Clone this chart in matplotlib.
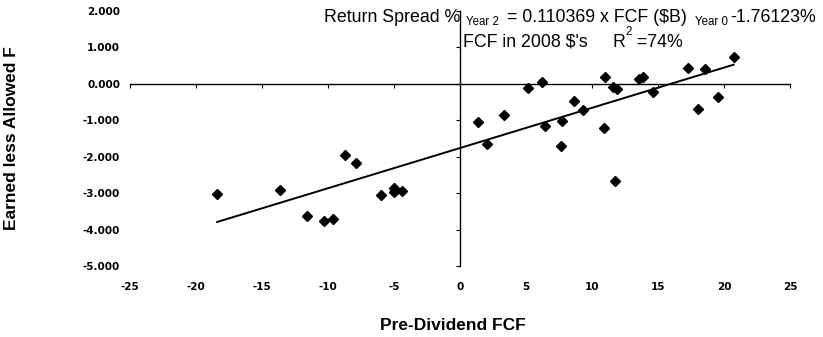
import matplotlib
matplotlib.use("Agg")
import matplotlib.pyplot as plt
import numpy as np

plt.rcParams['font.family'] = ['Liberation Sans', 'DejaVu Sans']

# Pre-dividend free cash flow ($B, 2008 dollars) and return spread two years later (%)
fcf = [-18.4, -13.6, -11.6, -10.3, -9.65, -8.7, -7.9, -6.0, -4.97, -4.97, -4.37,
       1.34, 2.02, 3.31, 5.15, 6.21, 6.47, 7.63, 7.75, 8.64, 9.32,
       10.93, 10.96, 11.57, 11.92, 11.72, 13.58, 13.84, 14.65,
       17.30, 18.0, 18.56, 19.57, 20.73]
spread = [-3.02, -2.91, -3.63, -3.77, -3.70, -1.95, -2.17, -3.06, -2.85, -2.97, -2.93,
          -1.05, -1.66, -0.85, -0.11, 0.05, -1.15, -1.70, -1.01, -0.47, -0.73,
          -1.21, 0.19, -0.09, -0.14, -2.66, 0.14, 0.19, -0.21,
          0.43, -0.69, 0.40, -0.37, 0.73]

# Fitted relationship stated in the annotation
slope = 0.110369
intercept = -1.76123
r_squared = 74

x_ticks = [-25, -20, -15, -10, -5, 0, 5, 10, 15, 20, 25]
y_ticks = [2.0, 1.0, 0.0, -1.0, -2.0, -3.0, -4.0, -5.0]

W, H = 823, 337
fig = plt.figure(figsize=(W / 100, H / 100), dpi=100)
pos = [130 / W, 1 - 266 / H, 660 / W, 255 / H]


def px(x, y):
    """Pixel position (from top-left) to figure fraction."""
    return x / W, 1 - y / H


# Axes carrying the crossing axis lines through the origin
ax = fig.add_axes(pos)
ax.set_xlim(-25, 25)
ax.set_ylim(-5, 2)
ax.spines['top'].set_visible(False)
ax.spines['right'].set_visible(False)
ax.spines['left'].set_position(('data', 0))
ax.spines['bottom'].set_position(('data', 0))
for s in ('left', 'bottom'):
    ax.spines[s].set_linewidth(1.0)
    ax.spines[s].set_color('black')
ax.set_xticks(x_ticks)
ax.set_yticks(y_ticks)
ax.tick_params(axis='x', direction='out', length=3, width=0.8, labelbottom=False)
ax.tick_params(axis='y', direction='out', length=3, width=0.8, labelleft=False)

# Overlay axes holding tick labels at the low edge of the plot area
lab = fig.add_axes(pos, sharex=ax, sharey=ax)
lab.patch.set_visible(False)
for s in lab.spines.values():
    s.set_visible(False)
lab.tick_params(axis='x', length=0, pad=11.5, labelsize=7.5)
lab.tick_params(axis='y', length=0, pad=7.2, labelsize=7.5)
lab.set_xticks(x_ticks)
lab.set_xticklabels([str(v) for v in x_ticks], fontweight='bold', family='DejaVu Sans')
lab.set_yticks(y_ticks)
lab.set_yticklabels([f"{v:.3f}" for v in y_ticks], fontweight='bold', family='DejaVu Sans')

# Data points and fitted line
ax.plot(fcf, spread, linestyle='none', marker='D', markersize=5,
        color='black', zorder=3)
xf = np.array([min(fcf), max(fcf)])
ax.plot(xf, slope * xf + intercept, color='black', linewidth=1.4, zorder=2)

# Axis titles
fig.text(*px(453, 325), 'Pre-Dividend FCF', ha='center', va='center',
         fontsize=12.5, fontweight='bold')
fig.text(*px(12, 138), 'Earned less Allowed F', ha='center', va='center',
         rotation=90, fontsize=12.5, fontweight='bold')

# Regression annotation, built from main-size and small subscript pieces
big, small = 12.8, 8.3
line1 = [
    (324, 22.5, 'Return Spread %', big),
    (466, 25.0, 'Year 2', small),
    (507, 22.5, f'= {slope:.6f} x FCF ($B)', big),
    (695, 25.0, 'Year 0', small),
    (730, 22.5, f'{intercept:.5f}%', big),
]
for x, y, s, fs in line1:
    fig.text(*px(x, y), s, ha='left', va='baseline', fontsize=fs)

fig.text(*px(463, 47), "FCF in 2008 $'s", ha='left', va='baseline', fontsize=big)
fig.text(*px(612, 47), 'R', ha='left', va='baseline', fontsize=big)
fig.text(*px(625.5, 35), '2', ha='left', va='baseline', fontsize=small)
fig.text(*px(632, 47), f' ={r_squared}%', ha='left', va='baseline', fontsize=big)

fig.savefig('out.png', dpi=100)
